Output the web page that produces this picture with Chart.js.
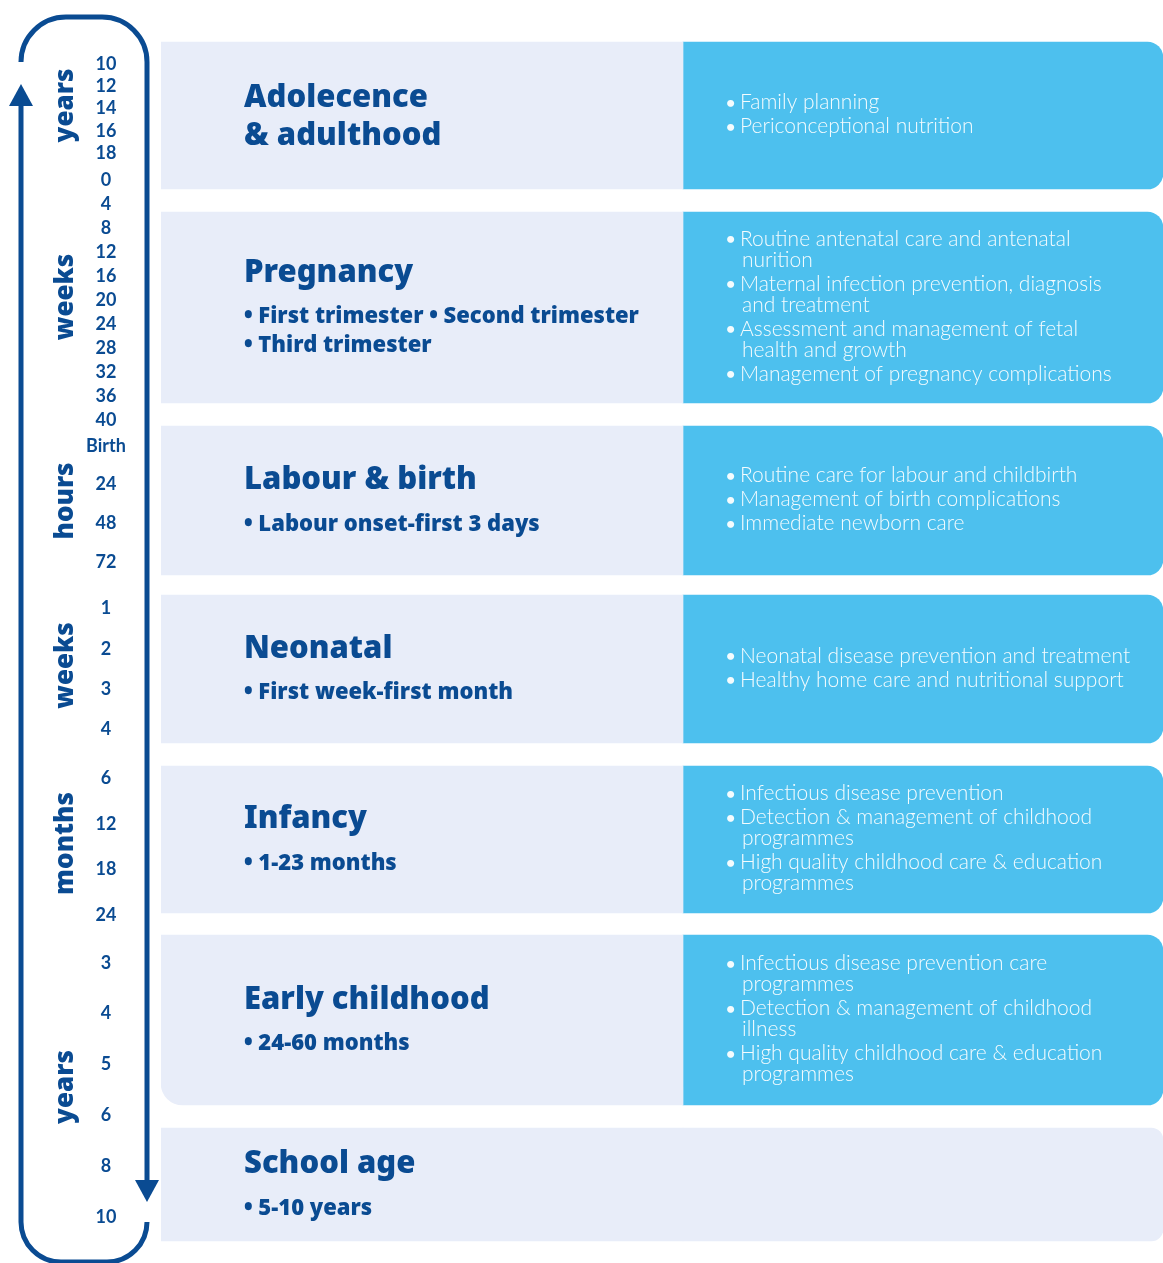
<!DOCTYPE html>
<html>
<head>
<meta charset="utf-8">
<script src="https://cdn.jsdelivr.net/npm/chart.js@4.4.1/dist/chart.umd.min.js"></script>
<style>
  html, body { margin: 0; padding: 0; background: #fff; }
  #wrap { width: 1163px; height: 1263px; position: relative; }
</style>
</head>
<body>
<div id="wrap"><canvas id="lifeChart"></canvas></div>
<script>
  // stages of the life course (left column)
  const stageTitles = [
    ["Adolecence", "& adulthood"],
    ["Pregnancy"],
    ["Labour & birth"],
    ["Neonatal"],
    ["Infancy"],
    ["Early childhood"],
    ["School age"],
  ];
  const stageNotes = [
    [],
    ["• First trimester • Second trimester", "• Third trimester"],
    ["• Labour onset-first 3 days"],
    ["• First week-first month"],
    ["• 1-23 months"],
    ["• 24-60 months"],
    ["• 5-10 years"],
  ];
  // where each stage sits on the timeline
  const stageFrom = [42, 212, 426, 595, 766, 935, 1128];
  const stageTo = [189, 403, 575, 743, 913, 1105, 1241];

  // interventions (right column), wrapped lines per item
  const careItems = [
    [["Family planning"], ["Periconceptional nutrition"]],
    [
      ["Routine antenatal care and antenatal", "nurition"],
      ["Maternal infection prevention, diagnosis", "and treatment"],
      ["Assessment and management of fetal", "health and growth"],
      ["Management of pregnancy complications"],
    ],
    [["Routine care for labour and childbirth"], ["Management of birth complications"], ["Immediate newborn care"]],
    [["Neonatal disease prevention and treatment"], ["Healthy home care and nutritional support"]],
    [
      ["Infectious disease prevention"],
      ["Detection & management of childhood", "programmes"],
      ["High quality childhood care & education", "programmes"],
    ],
    [
      ["Infectious disease prevention care", "programmes"],
      ["Detection & management of childhood", "illness"],
      ["High quality childhood care & education", "programmes"],
    ],
    [],
  ];

  // timeline axis ticks
  const tickLabels = ["10", "12", "14", "16", "18",
    "0", "4", "8", "12", "16", "20", "24", "28", "32", "36", "40",
    "Birth", "24", "48", "72",
    "1", "2", "3", "4",
    "6", "12", "18", "24",
    "3", "4", "5", "6", "8", "10"];
  const tickPos = [64, 86, 108, 131, 153,
    180, 204, 228, 252, 276, 300, 324, 348, 372, 396, 420,
    446, 484, 523, 562,
    608, 649, 689, 729,
    778, 824, 869, 915,
    963, 1013, 1064, 1115, 1166, 1217];
  const unitLabels = ["years", "weeks", "hours", "weeks", "months", "years"];
  const unitFirst = [0, 5, 16, 20, 24, 28];
  const unitLast = [4, 15, 19, 23, 27, 33];

  const NAVY = "#0a4b92";
  const PALE = "#e8edf9";
  const BLUE = "#4dc0ee";
  const FONT = "Lato";
  const HEAVY = "'Noto Sans'";

  // centre the tick labels in the gutter
  const tickFont = { family: FONT, size: 18, weight: "bold" };
  const mctx = document.createElement("canvas").getContext("2d");
  mctx.font = "bold 18px " + FONT;
  const widest = Math.max(...tickLabels.map((t) => mctx.measureText(t).width));
  const tickPad = 161 - 106 - widest / 2;

  // bracket with arrows around the timeline
  const bracket = {
    id: "bracket",
    afterDraw(chart) {
      const ctx = chart.ctx;
      ctx.save();
      ctx.strokeStyle = NAVY;
      ctx.fillStyle = NAVY;
      ctx.lineWidth = 5;
      ctx.beginPath();
      ctx.moveTo(147, 1222);
      ctx.arcTo(147, 1262, 107, 1262, 40);
      ctx.lineTo(61, 1262);
      ctx.arcTo(21, 1262, 21, 1222, 40);
      ctx.lineTo(21, 104);
      ctx.stroke();
      ctx.beginPath();
      ctx.moveTo(21, 61);
      ctx.arcTo(21, 17, 66, 17, 45);
      ctx.lineTo(102, 17);
      ctx.arcTo(147, 17, 147, 62, 45);
      ctx.lineTo(147, 1182);
      ctx.stroke();
      ctx.beginPath();
      ctx.moveTo(21, 84);
      ctx.lineTo(33, 106);
      ctx.lineTo(9, 106);
      ctx.closePath();
      ctx.fill();
      ctx.beginPath();
      ctx.moveTo(147, 1202);
      ctx.lineTo(135, 1180);
      ctx.lineTo(159, 1180);
      ctx.closePath();
      ctx.fill();

      // unit names, rotated
      const y = chart.scales.y;
      ctx.font = "900 26px " + HEAVY;
      ctx.textAlign = "center";
      ctx.textBaseline = "middle";
      unitLabels.forEach((u, i) => {
        const mid = (tickPos[unitFirst[i]] + tickPos[unitLast[i]]) / 2;
        ctx.save();
        ctx.translate(66, y.getPixelForValue(mid) - 3);
        ctx.rotate(-Math.PI / 2);
        ctx.fillText(u, 0, 0);
        ctx.restore();
      });
      ctx.restore();
    },
  };

  // titles and bullet lists inside the panels
  const panelText = {
    id: "panelText",
    afterDatasetsDraw(chart) {
      const ctx = chart.ctx;
      const lefts = chart.getDatasetMeta(0).data;
      const rights = chart.getDatasetMeta(1).data;
      ctx.save();
      ctx.textAlign = "left";
      ctx.textBaseline = "middle";
      lefts.forEach((bar, i) => {
        const p = bar.getProps(["x", "y", "base", "width"], true);
        const mid = (p.y + p.base) / 2;
        const x0 = p.x - p.width / 2;
        const titles = stageTitles[i];
        const notes = stageNotes[i];
        const h = (titles.length - 1) * 38 + (notes.length ? 44 + (notes.length - 1) * 29 : 0);
        let ty = mid - h / 2;
        ctx.fillStyle = NAVY;
        ctx.font = "900 31px " + HEAVY;
        titles.forEach((t, k) => ctx.fillText(t, x0 + 83, ty + k * 38 + 2));
        ty += (titles.length - 1) * 38 + 44;
        ctx.font = "900 22px " + HEAVY;
        notes.forEach((t, k) => ctx.fillText(t, x0 + 83, ty + k * 29 + 2));
      });
      rights.forEach((bar, i) => {
        const items = careItems[i];
        if (!items.length) return;
        const p = bar.getProps(["x", "y", "base", "width"], true);
        const mid = (p.y + p.base) / 2 - 1;
        const x0 = p.x - p.width / 2;
        let h = 0;
        items.forEach((it, k) => { h += (it.length - 1) * 21 + (k ? 24 : 0); });
        let ty = mid - h / 2;
        ctx.fillStyle = "rgba(255,255,255,0.94)";
        items.forEach((it, k) => {
          if (k) ty += 24;
          ctx.font = "bold 16px " + FONT;
          ctx.fillText("•", x0 + 43, ty);
          ctx.font = "300 21px " + FONT;
          it.forEach((line, j) => {
            if (j) ty += 21;
            ctx.fillText(line, x0 + (j ? 59 : 57), ty);
          });
        });
      });
      ctx.restore();
    },
  };

  const ctx = document.getElementById("lifeChart");
  new Chart(ctx, {
    type: "bar",
    data: {
      datasets: [
        {
          label: "Stage",
          data: stageFrom.map((v, i) => ({ x: 0, y: [v, stageTo[i]] })),
          backgroundColor: PALE,
          barThickness: 522,
          grouped: false,
          borderSkipped: false,
          borderRadius: (c) =>
            c.dataIndex === 5 ? { topLeft: 0, topRight: 0, bottomLeft: 22, bottomRight: 0 } : 0,
        },
        {
          label: "Interventions",
          data: stageFrom.map((v, i) => ({ x: 1, y: [v, stageTo[i]] })),
          backgroundColor: (c) => (careItems[c.dataIndex].length ? BLUE : PALE),
          barThickness: 480,
          grouped: false,
          borderSkipped: false,
          borderRadius: (c) => {
            const r = careItems[c.dataIndex].length ? 16 : 12;
            return { topLeft: 0, bottomLeft: 0, topRight: r, bottomRight: r };
          },
        },
      ],
    },
    options: {
      responsive: true,
      maintainAspectRatio: false,
      animation: false,
      devicePixelRatio: 1,
      layout: { padding: 0 },
      plugins: { legend: { display: false }, tooltip: { enabled: false } },
      scales: {
        x: {
          type: "linear",
          display: false,
          offset: false,
          min: -0.521,
          max: 1.479,
        },
        y: {
          type: "linear",
          reverse: true,
          min: 0,
          max: 1263,
          grid: { display: false, drawTicks: false },
          border: { display: false },
          ticks: {
            autoSkip: false,
            crossAlign: "center",
            padding: tickPad,
            color: NAVY,
            font: tickFont,
            callback: (v, i) => tickLabels[i],
          },
          afterBuildTicks: (scale) => {
            scale.ticks = tickPos.map((v) => ({ value: v }));
          },
          afterFit: (scale) => {
            scale.width = 161;
            scale.paddingTop = 0;
            scale.paddingBottom = 0;
          },
        },
      },
    },
    plugins: [panelText, bracket],
  });
</script>
</body>
</html>
